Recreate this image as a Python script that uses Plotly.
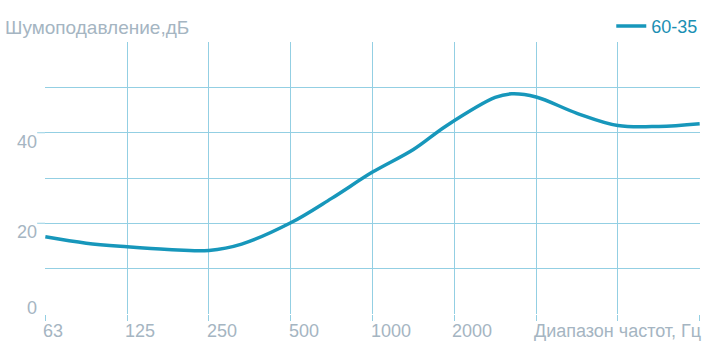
import plotly.graph_objects as go

octave_pos = [0, 0.5, 1, 1.5, 2, 2.4, 3, 3.5, 4, 4.5, 4.9, 5.5, 5.7, 6, 6.5, 7, 7.5, 8]
noise_reduction = [17.0, 15.6, 14.8, 14.2, 14.0, 15.4, 20.1, 25.5, 31.3, 36.3, 41.5, 47.8, 48.6, 47.9, 44.3, 41.6, 41.4, 42.0]
series_name = "60-35"

x_tick_pos = [0, 1, 2, 3, 4, 5]
x_tick_text = ["63", "125", "250", "500", "1000", "2000"]
y_tick_vals = [0, 20, 40]
y_title = "Шумоподавление,дБ"
x_title = "Диапазон частот, Гц"

grid = "#93cfe3"
txt = "#a5b5c2"
line_c = "#1797bb"
FONT = "Liberation Sans, Arial, sans-serif"
FS = 18

fig = go.Figure()
fig.add_trace(go.Scatter(x=octave_pos, y=noise_reduction, mode="lines", name=series_name,
                         line=dict(color=line_c, width=3.5, shape="spline", smoothing=1.0)))

fig.update_layout(
    width=710, height=345, margin=dict(l=45, r=10, t=42, b=31, autoexpand=False),
    paper_bgcolor="white", plot_bgcolor="white",
    font=dict(family=FONT, size=FS, color=txt),
    showlegend=True,
    legend=dict(x=1.005, xanchor="right", y=1.058, yanchor="middle", bgcolor="rgba(0,0,0,0)",
                font=dict(size=FS, color="#1b8fb3"), itemwidth=30, borderwidth=0),
)
fig.update_xaxes(range=[-0.004, 8.004], tickvals=list(range(9)), showticklabels=False,
                 showgrid=True, gridcolor=grid, gridwidth=1, zeroline=False,
                 showline=False, ticks="outside", ticklen=6, tickcolor=grid)
fig.update_yaxes(range=[-0.05, 60.05], tickvals=[0, 10, 20, 30, 40, 50, 60], showticklabels=False,
                 showgrid=True, gridcolor=grid, gridwidth=1, zeroline=False,
                 showline=False)

for p, t in zip(x_tick_pos, x_tick_text):
    fig.add_annotation(x=p, y=0, xref="x", yref="y", text=t, showarrow=False,
                       xanchor="left", yanchor="top", yshift=-5, xshift=-4,
                       font=dict(size=FS, color=txt, family=FONT))
fig.add_annotation(x=8, y=0, xref="x", yref="y", text=x_title, showarrow=False,
                   xanchor="right", yanchor="top", yshift=-5, xshift=3,
                   font=dict(size=FS, color=txt, family=FONT))
for v in y_tick_vals:
    fig.add_annotation(x=0, y=v, xref="x", yref="y", text=str(v), showarrow=False,
                       xanchor="right", yanchor="middle", xshift=-6,
                       yshift=(-9 if v > 0 else 6),
                       font=dict(size=FS, color=txt, family=FONT))
    if v > 0:
        fig.add_shape(type="line", xref="paper", yref="y", x0=-0.012, x1=0, y0=v, y1=v,
                      line=dict(color=grid, width=1))
fig.add_annotation(x=0, y=1, xref="paper", yref="paper", text=y_title, showarrow=False,
                   xanchor="left", yanchor="middle", xshift=-42, yshift=15,
                   font=dict(size=19, color=txt, family=FONT))

fig.write_html("out.html", config={"displayModeBar": False},
               post_script="document.body.style.margin='0';document.body.style.overflow='hidden';")
